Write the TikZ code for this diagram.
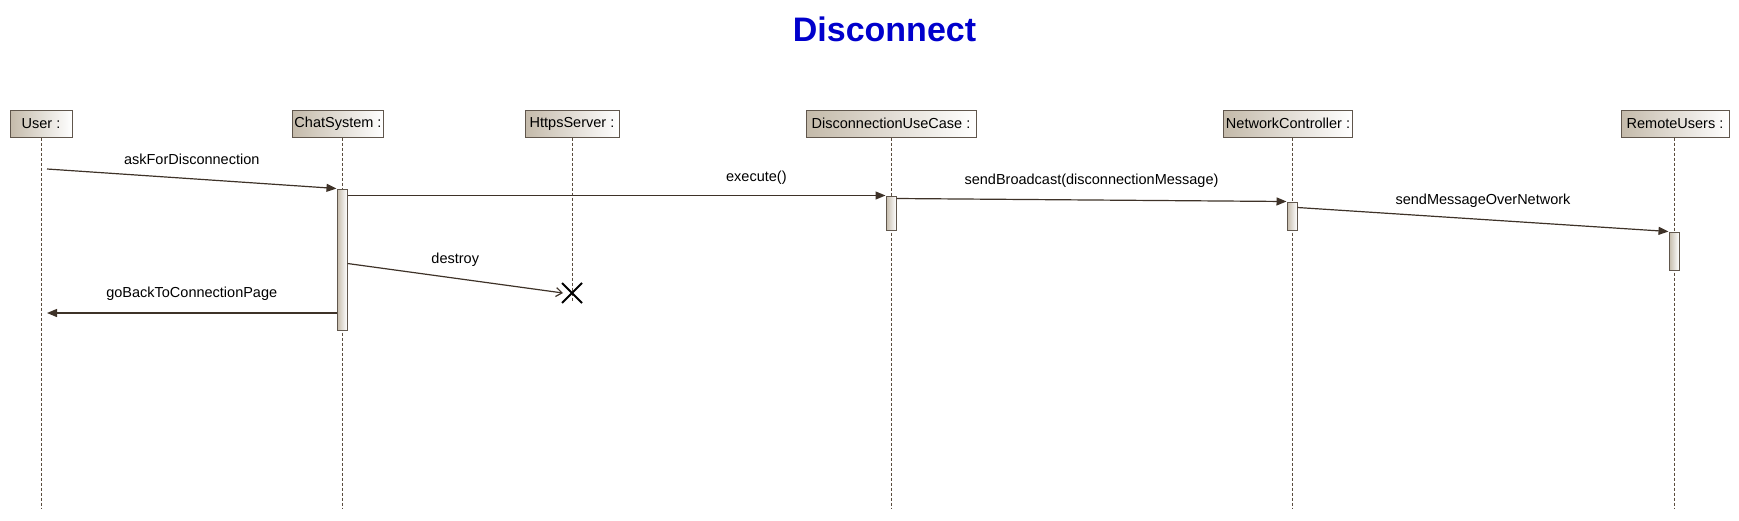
\documentclass[tikz,border=0pt]{standalone}
\usepackage{fontspec}
\setmainfont{Liberation Sans}
\usetikzlibrary{arrows.meta,calc}
\definecolor{boxdark}{RGB}{196,186,170}
\definecolor{boxborder}{RGB}{96,86,76}
\definecolor{msgline}{RGB}{62,50,40}
\definecolor{lifeln}{RGB}{90,76,62}
\definecolor{titleblue}{RGB}{0,0,204}
\tikzset{
  objbox/.style={draw=boxborder, line width=1pt, left color=boxdark, right color=white,
    minimum height=27pt, inner sep=2pt, font=\fontsize{14.5}{16}\selectfont},
  actbar/.style={draw=boxborder, line width=1pt, left color=boxdark, right color=white,
    minimum width=10pt, inner sep=0pt},
  lifeline/.style={draw=lifeln, line width=0.9pt, dash pattern=on 3pt off 2pt},
  syncmsg/.style={draw=msgline, line width=1.2pt, -{Triangle[length=10pt,width=8pt]}},
  destmsg/.style={draw=msgline, line width=1.2pt, -{Straight Barb[length=6pt,width=9pt]}},
  msglabel/.style={font=\fontsize{14.5}{16}\selectfont, yshift=19pt}
}
\begin{document}
\begin{tikzpicture}[x=1pt,y=-1pt]
\useasboundingbox (0,0) rectangle (1739,520);
\node[font=\bfseries\fontsize{34}{40}\selectfont, text=titleblue] (title) at (884.5,29) {Disconnect};

% end points of lifelines
\coordinate (userEnd) at (41,508);
\coordinate (chatEnd) at (342,508);
\coordinate (httpsX) at (572,293);
\coordinate (ducEnd) at (891,508);
\coordinate (ncEnd) at (1292,508);
\coordinate (ruEnd) at (1674,508);

% object boxes
\node[objbox, minimum width=62pt] (user) at (41,123.5) {User :};
\node[objbox, minimum width=90pt] (chat) at (338,123.5) {ChatSystem :};
\node[objbox, minimum width=94pt] (https) at (572,123.5) {HttpsServer :};
\node[objbox, minimum width=170pt] (duc) at (891,123.5) {DisconnectionUseCase :};
\node[objbox, minimum width=124pt] (nc) at (1288,123.5) {NetworkController :};
\node[objbox, minimum width=108pt] (ru) at (1675,123.5) {RemoteUsers :};

% lifelines
\draw[lifeline] (user.south) -- (userEnd);
\draw[lifeline] (chat.south -| chatEnd) -- (chatEnd);
\draw[lifeline] (https.south) -- ($(httpsX)+(0,9)$);
\draw[lifeline] (duc.south) -- (ducEnd);
\draw[lifeline] (nc.south -| ncEnd) -- (ncEnd);
\draw[lifeline] (ru.south -| ruEnd) -- (ruEnd);

% activation bars
\node[actbar, minimum height=141pt] (a1) at (342,259.5) {};
\node[actbar, minimum height=34pt] (a2) at (891,213) {};
\node[actbar, minimum height=28pt] (a3) at (1292,216) {};
\node[actbar, minimum height=38pt] (a4) at (1674,251) {};

% messages
\coordinate (m1s) at (47,169);
\draw[syncmsg] (m1s) -- (a1.north west) node[msglabel, midway] {askForDisconnection};
\draw[syncmsg] (a1.east |- a2.north) -- (a2.north west) node[msglabel, pos=0.76, yshift=-1pt] {execute()};
\draw[syncmsg] ($(a2.north east)+(0,3)$) -- (a3.north west) node[msglabel, midway] {sendBroadcast(disconnectionMessage)};
\draw[syncmsg] ($(a3.north east)+(0,6)$) -- (a4.north west) node[msglabel, midway] {sendMessageOverNetwork};
\draw[destmsg] ($(a1.north east)+(0,75)$) -- ($(httpsX)+(-9,0)$) node[msglabel, midway] {destroy};
\coordinate (m6e) at (47,313);
\draw[syncmsg] (a1.west |- m6e) -- (m6e) node[msglabel, midway] {goBackToConnectionPage};

% destruction mark
\draw[line width=2pt, black] ($(httpsX)+(-10,-10)$) -- ($(httpsX)+(10,10)$)
  ($(httpsX)+(-10,10)$) -- ($(httpsX)+(10,-10)$);
\end{tikzpicture}
\end{document}
